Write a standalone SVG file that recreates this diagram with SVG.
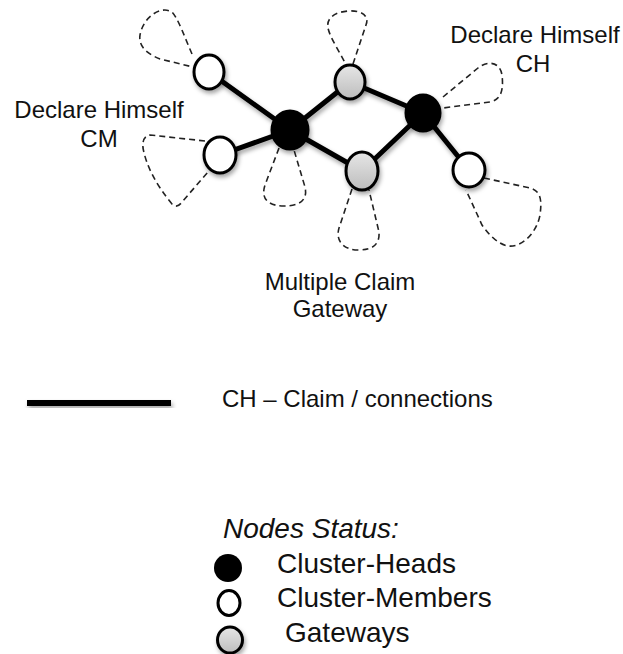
<svg xmlns="http://www.w3.org/2000/svg" width="623" height="654" viewBox="0 0 623 654">
  <style>
    .label { font-family: "Liberation Sans", Arial, sans-serif; font-size: 24px; fill: #111; }
    .mid { text-anchor: middle; }
    .edge { stroke: #000; stroke-width: 5; stroke-linecap: round; fill: none; }
    .loop { stroke: #222; stroke-width: 1.6; stroke-dasharray: 6 4; fill: none; }
    .node { stroke: #000; stroke-width: 3; }
    .head { fill: #000; }
    .member { fill: #fff; }
    .gateway { fill: url(#gwFill); }
  </style>
  <defs>
    <linearGradient id="gwFill" x1="0" y1="0" x2="0" y2="1">
      <stop offset="0" stop-color="#e6e6e6"/>
      <stop offset="1" stop-color="#bdbdbd"/>
    </linearGradient>
    <filter id="shadow" x="-30%" y="-30%" width="160%" height="160%">
      <feDropShadow dx="1.5" dy="3" stdDeviation="2" flood-color="#000" flood-opacity="0.35"/>
    </filter>
  </defs>

  <!-- dashed self-loops -->
  <g id="loops">
    <path class="loop" d="M192,54 C185,38 178,18 172,12 C160,5 143,18 140,35 C138,48 150,55 160,59 L193,67"/>
    <path class="loop" d="M205,141 L150,135 Q142,136 143,148 Q148,175 172,204 Q177,209 182,202 L208,172"/>
    <path class="loop" d="M279,148 L265,185 C260,200 270,206 284,206 C300,206 308,200 305,187 L294,150"/>
    <path class="loop" d="M353,64 L366,25 C370,15 360,10 348,11 C335,12 326,18 328,28 C330,38 340,52 346,65"/>
    <path class="loop" d="M443,97 L478,68 C488,60 500,62 502,75 C504,92 500,100 490,102 L443,108"/>
    <path class="loop" d="M352,189 L339,228 C335,242 345,250 358,250 C372,250 380,245 379,232 L369,190"/>
    <path class="loop" d="M484,178 L530,188 C541,191 542,200 540,215 C537,232 522,248 508,246 C498,244 490,236 482,225 L466,190"/>
  </g>

  <!-- claim connections -->
  <g id="connectors" filter="url(#shadow)">
    <line class="edge" x1="209" y1="72" x2="290" y2="130"/>
    <line class="edge" x1="220" y1="155" x2="290" y2="130"/>
    <line class="edge" x1="290" y1="130" x2="350" y2="82"/>
    <line class="edge" x1="290" y1="130" x2="362" y2="171"/>
    <line class="edge" x1="350" y1="82" x2="423" y2="113"/>
    <line class="edge" x1="362" y1="171" x2="423" y2="113"/>
    <line class="edge" x1="423" y1="113" x2="469" y2="170"/>
  </g>

  <!-- nodes -->
  <g id="m1" filter="url(#shadow)"><ellipse class="node member" cx="209" cy="72" rx="15" ry="17"/></g>
  <g id="m2" filter="url(#shadow)"><ellipse class="node member" cx="220" cy="155" rx="16" ry="18"/></g>
  <g id="h1" filter="url(#shadow)"><ellipse class="node head" cx="290" cy="130" rx="18" ry="19"/></g>
  <g id="g1" filter="url(#shadow)"><ellipse class="node gateway" cx="350" cy="82" rx="15" ry="17"/></g>
  <g id="h2" filter="url(#shadow)"><ellipse class="node head" cx="423" cy="113" rx="17" ry="18"/></g>
  <g id="g2" filter="url(#shadow)"><ellipse class="node gateway" cx="362" cy="171" rx="16" ry="19"/></g>
  <g id="m3" filter="url(#shadow)"><ellipse class="node member" cx="469" cy="170" rx="16" ry="17"/></g>

  <!-- annotations -->
  <g id="labels">
    <text class="label mid" x="99" y="118">Declare Himself</text>
    <text class="label mid" x="99" y="147">CM</text>
    <text class="label mid" x="535" y="43">Declare Himself</text>
    <text class="label mid" x="533" y="72">CH</text>
    <text class="label mid" x="340" y="290">Multiple Claim</text>
    <text class="label mid" x="340" y="317">Gateway</text>
  </g>

  <!-- legend -->
  <g id="legend">
    <rect x="27" y="400" width="144" height="6" fill="#000" filter="url(#shadow)"/>
    <text class="label" x="222" y="407">CH – Claim / connections</text>
    <text class="label" x="223" y="538" style="font-size:28px;font-style:italic">Nodes Status:</text>
    <circle class="head" cx="228" cy="568" r="14"/>
    <text class="label" x="277" y="573" style="font-size:28px">Cluster-Heads</text>
    <ellipse class="node member" cx="229" cy="603" rx="11" ry="12.5" stroke-width="3"/>
    <text class="label" x="277" y="607" style="font-size:28px">Cluster-Members</text>
    <ellipse class="node gateway" cx="230" cy="640" rx="12.5" ry="13" stroke-width="2" filter="url(#shadow)"/>
    <text class="label" x="285" y="642" style="font-size:28px">Gateways</text>
  </g>
</svg>
